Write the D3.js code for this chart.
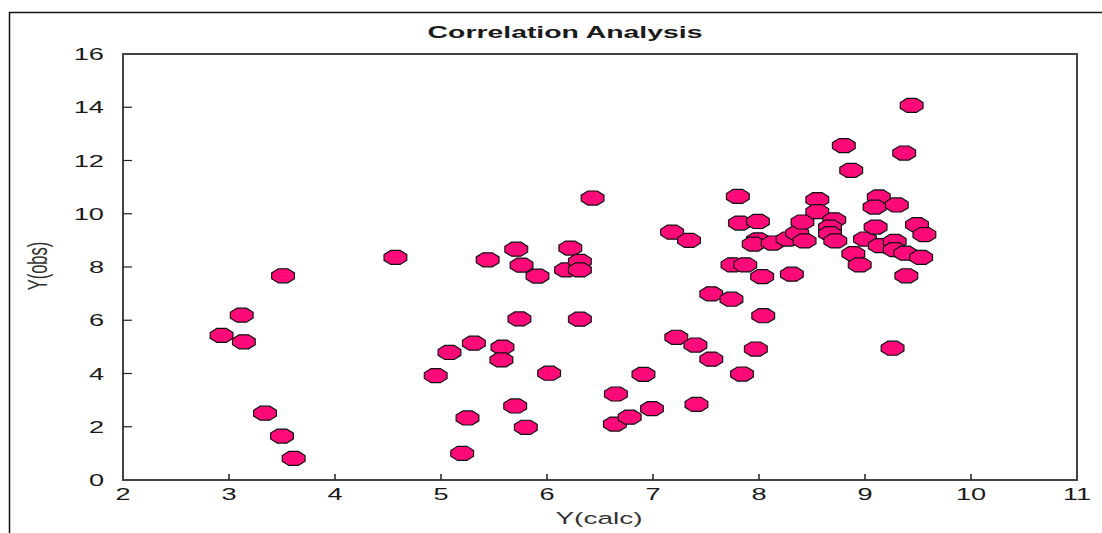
<!DOCTYPE html>
<html>
<head>
<meta charset="utf-8">
<script src="https://cdn.jsdelivr.net/npm/d3@7"></script>
<style>
  body { margin: 0; background: #fff; }
  text { font-family: "Liberation Sans", Arial, sans-serif; fill: #1a1a1a; }
</style>
</head>
<body>
<script>
// Y(calc) values
var calc = [2.93, 3.12, 3.14, 3.51, 3.34, 3.50, 3.61, 4.57,
    4.95, 5.08, 5.31, 5.44, 5.58, 5.57, 5.25, 5.20, 5.70, 5.71, 5.76, 5.74, 5.80, 5.91, 6.02,
    6.18, 6.22, 6.31, 6.31, 6.31, 6.43, 6.65, 6.64, 6.78, 6.91, 6.99,
    7.18, 7.34, 7.22, 7.40, 7.41, 7.55, 7.55, 7.74, 7.75, 7.80, 7.84, 7.87, 7.82, 7.97, 7.99, 7.99, 7.95, 8.03, 8.04,
    8.13, 8.27, 8.36, 8.43, 8.41, 8.31, 8.55, 8.55, 8.71, 8.67, 8.67, 8.72, 8.80, 8.87, 8.89, 8.95, 9.00, 9.10,
    9.13, 9.09, 9.14, 9.28, 9.28, 9.30, 9.26, 9.37, 9.38, 9.39, 9.44, 9.49, 9.53, 9.56];
// Y(obs) values, same order
var obs = [5.43, 6.19, 5.19, 7.67, 2.51, 1.65, 0.81, 8.36,
    3.92, 4.79, 5.14, 8.27, 4.99, 4.51, 2.33, 1.00, 2.78, 8.67, 8.07, 6.05, 1.98, 7.66, 4.01,
    7.89, 8.71, 8.21, 7.89, 6.04, 10.59, 3.23, 2.10, 2.36, 3.97, 2.68,
    9.31, 9.00, 5.36, 5.07, 2.84, 6.99, 4.54, 6.79, 8.08, 10.65, 3.98, 8.08, 9.65, 4.92, 9.71, 9.02, 8.86, 7.64, 6.17,
    8.90, 9.05, 9.27, 8.98, 9.69, 7.73, 10.53, 10.08, 9.77, 9.50, 9.25, 8.98, 12.56, 11.63, 8.50, 8.08, 9.05, 9.50,
    10.63, 10.25, 8.80, 8.96, 8.65, 10.33, 4.95, 12.28, 8.52, 7.67, 14.07, 9.59, 8.36, 9.22];

var xTicks = [2, 3, 4, 5, 6, 7, 8, 9, 10, 11];
var yTicks = [0, 2, 4, 6, 8, 10, 12, 14, 16];

var W = 1102, H = 533;
var plotLeft = 123, plotRight = 1077, plotTop = 54, plotBottom = 480;
var stretch = 1.7; // the original picture is widened horizontally

var svg = d3.select("body").append("svg")
    .attr("width", W)
    .attr("height", H);

// outer frame of the window
svg.append("path")
    .attr("d", "M9.5," + H + "V12.5H" + W)
    .attr("fill", "none")
    .attr("stroke", "#111")
    .attr("stroke-width", 1.5);

var x = d3.scaleLinear().domain([2, 11]).range([plotLeft, plotRight]);
var y = d3.scaleLinear().domain([0, 16]).range([plotBottom, plotTop]);

// plot box
svg.append("rect")
    .attr("x", plotLeft)
    .attr("y", plotTop)
    .attr("width", plotRight - plotLeft)
    .attr("height", plotBottom - plotTop)
    .attr("fill", "none")
    .attr("stroke", "#444")
    .attr("stroke-width", 2);

// ticks (pointing inward)
svg.append("g").selectAll("line")
    .data(xTicks.slice(1, -1))
    .enter().append("line")
    .attr("x1", function(d) { return x(d); })
    .attr("x2", function(d) { return x(d); })
    .attr("y1", plotBottom)
    .attr("y2", plotBottom - 6)
    .attr("stroke", "#222")
    .attr("stroke-width", 1.5);

svg.append("g").selectAll("line")
    .data(yTicks.slice(1, -1))
    .enter().append("line")
    .attr("x1", plotLeft)
    .attr("x2", plotLeft + 9)
    .attr("y1", function(d) { return y(d); })
    .attr("y2", function(d) { return y(d); })
    .attr("stroke", "#222")
    .attr("stroke-width", 1.2);

// tick labels
svg.append("g").selectAll("text")
    .data(xTicks)
    .enter().append("text")
    .attr("transform", function(d) { return "translate(" + x(d) + ",500) scale(" + stretch + ",1)"; })
    .attr("text-anchor", "middle")
    .style("font-size", "16px")
    .text(function(d) { return d; });

svg.append("g").selectAll("text")
    .data(yTicks)
    .enter().append("text")
    .attr("transform", function(d) { return "translate(104," + (y(d) + 6) + ") scale(" + stretch + ",1)"; })
    .attr("text-anchor", "end")
    .style("font-size", "16px")
    .text(function(d) { return d; });

// title and axis titles
svg.append("text")
    .attr("transform", "translate(565,38) scale(1.72,1)")
    .attr("text-anchor", "middle")
    .style("font-size", "16.5px")
    .style("font-weight", "bold")
    .text("Correlation Analysis");

svg.append("text")
    .attr("transform", "translate(599,524) scale(" + stretch + ",1)")
    .attr("text-anchor", "middle")
    .style("font-size", "16.5px")
    .style("fill", "#333")
    .text("Y(calc)");

svg.append("text")
    .attr("transform", "translate(47,266) scale(" + stretch + ",1) rotate(-90)")
    .attr("text-anchor", "middle")
    .style("font-size", "16.5px")
    .style("fill", "#333")
    .text("Y(obs)");

// octagon markers, widened like the rest of the picture
var angles = d3.range(8).map(function(i) { return Math.PI / 8 + i * Math.PI / 4; });
var r = 7.6;
var octagon = d3.line()
    .x(function(a) { return Math.cos(a) * r * 1.62; })
    .y(function(a) { return Math.sin(a) * r; })
    .curve(d3.curveLinearClosed);

svg.append("g").selectAll("path")
    .data(d3.range(calc.length))
    .enter().append("path")
    .attr("transform", function(i) { return "translate(" + x(calc[i]) + "," + y(obs[i]) + ")"; })
    .attr("d", octagon(angles))
    .attr("fill", "#ff0a78")
    .attr("stroke", "#111")
    .attr("stroke-width", 1.2);
</script>
</body>
</html>
